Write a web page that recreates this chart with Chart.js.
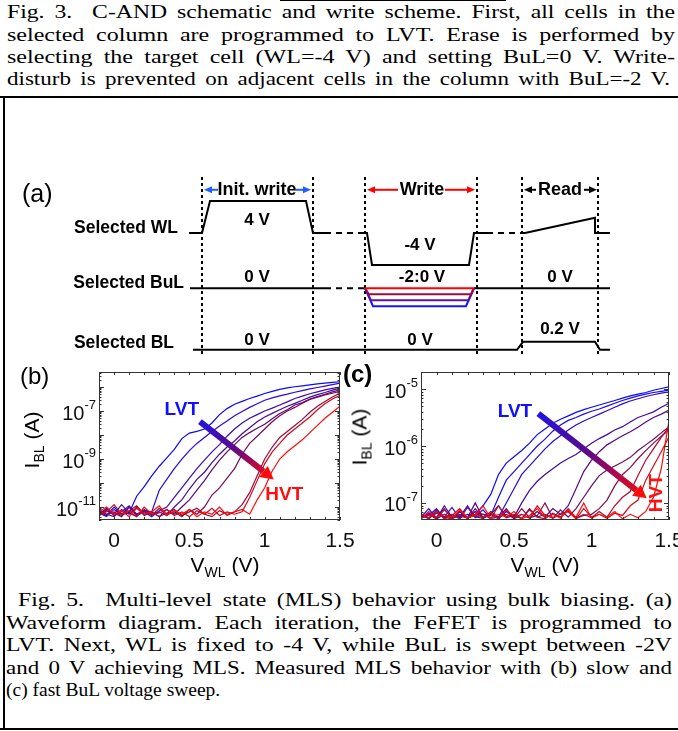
<!DOCTYPE html>
<html lang="en">
<head>
<meta charset="UTF-8" />
<title>Fig. 5 MLS behavior</title>
<script src="https://cdn.jsdelivr.net/npm/chart.js"></script>
<style>
  body { margin: 0; background: #fff; }
  #page { position: relative; width: 678px; height: 731px; overflow: hidden; font-family: "Liberation Sans", Arial, sans-serif; color: #000; }
  .ln { position: absolute; font-family: "Liberation Serif", "Times New Roman", Times, serif; font-size: 19.5px; line-height: 22px; white-space: nowrap; transform-origin: 0 0; }
  .rule { position: absolute; background: #000; }
  canvas { position: absolute; }
  .lbl { position: absolute; line-height: 1; }
  .ttl { position: absolute; font-size: 21px; line-height: 1; white-space: nowrap; }
  .ttl sub { font-size: 14px; vertical-align: baseline; position: relative; top: 5px; }
  .rot { transform: translate(-50%, -50%) rotate(-90deg); }
  .cx { transform: translateX(-50%); }
</style>
</head>
<body>
<div id="page">
  <div class="rule" style="left:280px;top:0;width:226px;height:1px"></div>
  <!-- caption lines: data-w is the width each justified line spans in the picture -->
  <div class="ln" style="left:7px;top:1px" data-w="668">Fig. 3.&nbsp; C-AND schematic and write scheme. First, all cells in the</div>
  <div class="ln" style="left:7px;top:24px" data-w="668">selected column are programmed to LVT. Erase is performed by</div>
  <div class="ln" style="left:7px;top:46px" data-w="668">selecting the target cell (WL=-4 V) and setting BuL=0 V. Write-</div>
  <div class="ln" style="left:7px;top:68px" data-w="663">disturb is prevented on adjacent cells in the column with BuL=-2 V.</div>
  <div class="rule" style="left:0;top:96px;width:678px;height:2px"></div>
  <div class="rule" style="left:3px;top:97px;width:2px;height:633px"></div>
  <div class="rule" style="left:0;top:728px;width:678px;height:2px"></div>

  <canvas id="wave" width="678" height="195" style="left:0;top:170px"></canvas>
  <canvas id="slow" width="320" height="215" style="left:40px;top:360px"></canvas>
  <canvas id="fast" width="318" height="215" style="left:360px;top:360px"></canvas>

  <div class="lbl" style="left:22px;top:181px;font-size:25px">(a)</div>
  <div class="lbl" style="left:20px;top:364px;font-size:24px">(b)</div>
  <div class="lbl" style="left:343px;top:362px;font-size:24px;font-weight:bold">(c)</div>

  <div class="ttl cx" style="left:225px;top:554px">V<sub>WL</sub> (V)</div>
  <div class="ttl cx" style="left:545px;top:554px">V<sub>WL</sub> (V)</div>
  <div class="ttl rot" style="left:31px;top:440px">I<sub>BL</sub> (A)</div>
  <div class="ttl rot" style="left:359px;top:437px">I<sub>BL</sub> (A)</div>

  <div class="ln" style="left:18px;top:589px" data-w="654">Fig. 5.&nbsp; Multi-level state (MLS) behavior using bulk biasing. (a)</div>
  <div class="ln" style="left:6px;top:612px" data-w="666">Waveform diagram. Each iteration, the FeFET is programmed to</div>
  <div class="ln" style="left:6px;top:634px" data-w="666">LVT. Next, WL is fixed to -4 V, while BuL is swept between -2V</div>
  <div class="ln" style="left:6px;top:657px" data-w="666">and 0 V achieving MLS. Measured MLS behavior with (b) slow and</div>
  <div class="ln" style="left:6px;top:679px">(c) fast BuL voltage sweep.</div>
</div>

<script>
  // justify each caption line: a little extra word space, the rest as a horizontal stretch
  document.querySelectorAll('.ln[data-w]').forEach(el => {
    const target = Number(el.dataset.w);
    const txt = el.textContent;
    const spaces = (txt.match(/[ \u00a0]/g) || []).length;
    const w = el.getBoundingClientRect().width;
    el.style.wordSpacing = ((target - w) * 0.25 / spaces).toFixed(3) + 'px';
    const w2 = el.getBoundingClientRect().width;
    el.style.transform = 'scaleX(' + (target / w2).toFixed(4) + ')';
  });

  Chart.defaults.font.family = '"Liberation Sans", Arial, sans-serif';

  // ---------- (a) waveform: time in arbitrary units, levels in drawing units ----------
  const PHASE_MARKS = [11, 66.5, 92.5, 148.5, 171, 209];
  const WL_T1 = [4.5, 11, 15, 63, 66.5, 72.5],      WL_V1 = [0, 0, 4, 4, 0, 0];
  const WL_T2 = [91, 93.5, 96, 144.5, 147, 153.5],  WL_V2 = [0, 0, -4, -4, 0, 0];
  const WL_T3 = [171, 172.5, 207.5, 207.5, 215],    WL_V3 = [0, 0, 1.9, 0, 0];
  const WL_GAPS = [[72.5, 91], [153.5, 171]];
  const BUL_T1 = [5, 72.5], BUL_T2 = [147, 215], BUL_GAP = [72.5, 92.5];
  const BUL_SWEEP = [-2.25, -1.5, -0.75, 0];
  const BUL_IN = [96.5, 95.5, 94.5, 92.5];
  const BUL_OUT = [143, 144.25, 145.5, 147];
  const SWEEP_COLORS = ['#1414ff', '#5a14a0', '#9c0a3c', '#ff0000'];
  const BL_T = [6.5, 168.5, 171.5, 207.5, 210, 215], BL_V = [0, 0, 1, 1, 0, 0];
  const BASE = { WL: 0, BuL: -6.9, BL: -14.6 };

  function wline(ts, vs, base, color, dash, order) {
    return {
      data: ts.map((t, i) => ({ x: t, y: base + vs[i] })),
      borderColor: color, borderWidth: 2, borderDash: dash || [],
      pointRadius: 0, tension: 0, fill: false, order: order || 5
    };
  }

  const waveSets = [];
  PHASE_MARKS.forEach(t => waveSets.push(wline([t, t], [7, -15.5], 0, '#000', [3, 3], 10)));
  waveSets.push(wline(WL_T1, WL_V1, BASE.WL, '#000'));
  waveSets.push(wline(WL_T2, WL_V2, BASE.WL, '#000'));
  waveSets.push(wline(WL_T3, WL_V3, BASE.WL, '#000'));
  WL_GAPS.forEach(g => waveSets.push(wline(g, [0, 0], BASE.WL, '#000', [6, 5])));
  waveSets.push(wline(BUL_T1, [0, 0], BASE.BuL, '#000'));
  waveSets.push(wline(BUL_GAP, [0, 0], BASE.BuL, '#000', [6, 5]));
  waveSets.push(wline(BUL_T2, [0, 0], BASE.BuL, '#000'));
  BUL_SWEEP.forEach((lv, i) => waveSets.push(wline(
    [92.5, BUL_IN[i], BUL_OUT[i], 147], [0, lv, lv, 0], BASE.BuL, SWEEP_COLORS[i], [], 4 - i)));
  waveSets.push(wline(BL_T, BL_V, BASE.BL, '#000'));

  // text notes: [text, t, y, align, size, squeeze]
  const WAVE_NOTES = [
    ['Selected WL', -1, 0.6, 'right', 19, 0.92],
    ['Selected BuL', 2, -6.25, 'right', 19, 0.92],
    ['Selected BL', -3, -13.75, 'right', 19, 0.92],
    ['4 V', 38.5, 1.6, 'center', 17, 1],
    ['0 V', 38.5, -5.6, 'center', 17, 1],
    ['0 V', 38.5, -13.4, 'center', 17, 1],
    ['-4 V', 120, -1.5, 'center', 17, 1],
    ['-2:0 V', 121, -5.6, 'center', 17, 1],
    ['0 V', 120, -13.4, 'center', 17, 1],
    ['0 V', 190, -5.6, 'center', 17, 1],
    ['0.2 V', 190, -12.1, 'center', 17, 1],
    ['Init. write', 38.5, 5.4, 'center', 18, 1],
    ['Write', 121, 5.4, 'center', 18, 1],
    ['Read', 190, 5.4, 'center', 18, 1]
  ];
  // header arrows: [tail, head, color]
  const WAVE_ARROWS = [
    [19, 12, '#1f5fff'], [58, 65.5, '#1f5fff'],
    [109, 93.5, '#ff0000'], [132.5, 147.5, '#ff0000'],
    [178, 172, '#000'], [202, 208.5, '#000']
  ];

  const waveNotes = {
    id: 'waveNotes',
    afterDatasetsDraw(chart) {
      const { ctx, scales: { x, y } } = chart;
      ctx.save();
      WAVE_NOTES.forEach(([txt, t, v, align, size, sq]) => {
        ctx.save();
        ctx.translate(x.getPixelForValue(t), y.getPixelForValue(v));
        ctx.scale(sq, 1);
        ctx.font = 'bold ' + size + 'px "Liberation Sans", Arial';
        ctx.fillStyle = '#000';
        ctx.textAlign = align;
        ctx.textBaseline = 'middle';
        ctx.fillText(txt, 0, 0);
        ctx.restore();
      });
      WAVE_ARROWS.forEach(([t0, t1, col]) => {
        const x0 = x.getPixelForValue(t0), x1 = x.getPixelForValue(t1), py = y.getPixelForValue(5.4);
        const dir = Math.sign(x1 - x0);
        ctx.strokeStyle = col; ctx.fillStyle = col; ctx.lineWidth = 2;
        ctx.beginPath(); ctx.moveTo(x0, py); ctx.lineTo(x1 - dir * 6, py); ctx.stroke();
        ctx.beginPath(); ctx.moveTo(x1, py); ctx.lineTo(x1 - dir * 8, py - 3.5); ctx.lineTo(x1 - dir * 8, py + 3.5);
        ctx.closePath(); ctx.fill();
      });
      ctx.restore();
    }
  };

  new Chart(document.getElementById('wave'), {
    type: 'line',
    data: { datasets: waveSets },
    options: {
      responsive: false, animation: false, events: [],
      layout: { padding: 0 },
      plugins: { legend: { display: false }, tooltip: { enabled: false } },
      scales: {
        x: { type: 'linear', min: -90, max: 249, display: false },
        y: { type: 'linear', min: -16.5, max: 7.875, display: false }
      }
    },
    plugins: [waveNotes]
  });

  // ---------- (b), (c) transfer curves: log10(I_BL / A) vs V_WL ----------
  const VWL = [-0.1, -0.05, 0, 0.05, 0.1, 0.15, 0.2, 0.25, 0.3, 0.35, 0.4, 0.45, 0.5, 0.55, 0.6, 0.65,
               0.7, 0.75, 0.8, 0.85, 0.9, 0.95, 1, 1.05, 1.1, 1.15, 1.2, 1.25, 1.3, 1.35, 1.4, 1.45, 1.5];
  const X_TICKS = [0, 0.5, 1, 1.5];

  const SLOW_1 = [-11.2, -11.35, -11.0, -11.3, -11.25, -10.55, -10.15, -9.7, -9.3, -8.95, -8.6, -8.15, -7.92, -7.85, -7.75, -7.5, -7.15, -6.9, -6.72, -6.6, -6.48, -6.38, -6.27, -6.18, -6.1, -6.04, -5.99, -5.95, -5.91, -5.87, -5.84, -5.81, -5.78];
  const SLOW_2 = [-11.3, -11.05, -11.35, -11.2, -10.95, -11.3, -11.15, -11.2, -10.3, -9.85, -9.4, -9.0, -8.65, -8.35, -8.1, -7.85, -7.62, -7.42, -7.2, -7.02, -6.85, -6.7, -6.55, -6.45, -6.37, -6.3, -6.22, -6.15, -6.08, -6.02, -5.96, -5.9, -5.84];
  const SLOW_3 = [-11.25, -11.4, -11.1, -11.3, -11.0, -11.35, -11.2, -11.4, -11.15, -11.0, -10.6, -10.2, -9.8, -9.4, -9.05, -8.7, -8.4, -8.05, -7.75, -7.5, -7.3, -7.15, -7.0, -6.88, -6.75, -6.62, -6.48, -6.38, -6.28, -6.2, -6.12, -6.06, -6.0];
  const SLOW_4 = [-11.35, -11.15, -11.3, -10.9, -11.25, -11.4, -11.1, -11.3, -11.2, -11.35, -11.0, -10.7, -10.25, -9.85, -9.55, -9.15, -8.8, -8.5, -8.25, -7.95, -7.7, -7.45, -7.25, -7.1, -6.95, -6.8, -6.68, -6.55, -6.42, -6.32, -6.23, -6.13, -6.05];
  const SLOW_5 = [-11.2, -11.3, -11.4, -11.1, -11.3, -11.0, -11.35, -11.2, -11.4, -11.1, -11.3, -11.0, -10.7, -10.3, -9.9, -9.45, -9.05, -8.7, -8.4, -8.1, -7.9, -7.72, -7.55, -7.32, -7.1, -6.95, -6.75, -6.65, -6.5, -6.4, -6.3, -6.2, -6.12];
  const SLOW_6 = [-11.3, -11.1, -11.25, -11.4, -11.0, -11.3, -11.15, -11.35, -11.05, -11.3, -11.2, -11.4, -11.1, -11.3, -11.0, -10.5, -10.2, -9.8, -9.4, -8.8, -8.35, -8.05, -7.75, -7.45, -7.2, -7.0, -6.85, -6.68, -6.52, -6.42, -6.33, -6.26, -6.18];
  const SLOW_7 = [-11.1, -11.3, -11.2, -11.35, -11.15, -10.95, -11.3, -11.2, -11.4, -11.25, -11.1, -11.35, -11.2, -11.05, -11.3, -11.4, -11.15, -11.3, -11.2, -10.9, -10.4, -9.7, -9.0, -8.5, -8.1, -7.85, -7.6, -7.35, -7.05, -6.8, -6.6, -6.42, -6.25];
  const SLOW_8 = [-11.35, -11.2, -10.9, -11.3, -11.15, -11.4, -11.0, -11.3, -11.25, -11.1, -11.35, -11.2, -11.4, -11.15, -11.3, -11.05, -11.35, -11.2, -11.3, -11.2, -10.6, -9.9, -9.2, -8.7, -8.35, -8.0, -7.75, -7.5, -7.25, -6.95, -6.7, -6.5, -6.35];
  const SLOW_9 = [-11.2, -11.0, -11.3, -11.15, -11.4, -11.05, -11.3, -11.2, -10.95, -11.35, -11.15, -11.3, -11.1, -11.4, -11.2, -11.3, -11.0, -11.35, -11.2, -11.1, -11.3, -10.7, -10.2, -9.5, -9.0, -8.7, -8.45, -8.2, -7.9, -7.6, -7.3, -7.05, -6.8];
  const SLOW_COLORS = ['#0a0aff', '#2a0ad8', '#3c0ab0', '#4a0a90', '#5a0a74', '#780a56', '#9c0a3c', '#d00a1e', '#ff0a0a'];

  const FAST_1 = [-7.25, -7.1, -7.28, -7.2, -7.26, -7.15, -7.27, -7.2, -7.05, -6.85, -6.5, -6.3, -6.19, -6.08, -5.95, -5.8, -5.7, -5.6, -5.53, -5.47, -5.41, -5.36, -5.32, -5.28, -5.24, -5.2, -5.16, -5.12, -5.09, -5.06, -5.02, -4.99, -4.96];
  const FAST_2 = [-7.27, -7.22, -7.1, -7.28, -7.2, -7.25, -7.05, -7.26, -7.2, -7.22, -6.9, -6.6, -6.45, -6.3, -6.15, -6.0, -5.88, -5.74, -5.63, -5.55, -5.5, -5.44, -5.39, -5.35, -5.3, -5.25, -5.2, -5.16, -5.12, -5.09, -5.06, -5.04, -5.02];
  const FAST_3 = [-7.2, -7.28, -7.15, -7.25, -7.08, -7.27, -7.2, -7.24, -7.12, -7.27, -7.25, -7.0, -6.75, -6.5, -6.35, -6.2, -6.05, -5.92, -5.82, -5.72, -5.63, -5.56, -5.5, -5.44, -5.38, -5.32, -5.26, -5.21, -5.17, -5.13, -5.1, -5.07, -5.05];
  const FAST_4 = [-7.26, -7.18, -7.28, -7.05, -7.25, -7.2, -7.27, -7.1, -7.26, -7.2, -7.28, -7.15, -7.25, -7.0, -6.78, -6.62, -6.5, -6.4, -6.3, -6.22, -6.15, -6.05, -5.95, -5.87, -5.8, -5.72, -5.66, -5.58, -5.5, -5.45, -5.4, -5.32, -5.25];
  const FAST_5 = [-7.2, -7.27, -7.12, -7.25, -7.28, -7.15, -7.26, -7.0, -7.27, -7.2, -7.25, -7.1, -7.28, -7.2, -7.26, -7.15, -7.25, -7.1, -7.2, -7.05, -6.75, -6.45, -6.25, -6.1, -5.98, -5.9, -5.82, -5.75, -5.67, -5.58, -5.5, -5.44, -5.37];
  const FAST_6 = [-7.27, -7.2, -7.25, -7.1, -7.28, -7.22, -7.26, -7.15, -7.27, -7.2, -7.05, -7.26, -7.22, -7.28, -7.1, -7.25, -7.2, -7.27, -7.12, -7.25, -7.1, -6.9, -6.7, -6.52, -6.42, -6.35, -6.28, -6.2, -6.08, -5.98, -5.88, -5.77, -5.66];
  const FAST_7 = [-7.22, -7.27, -7.18, -7.25, -7.2, -7.28, -7.08, -7.24, -7.27, -7.15, -7.25, -7.2, -7.27, -7.1, -7.26, -7.22, -7.0, -7.27, -7.2, -7.15, -7.27, -7.22, -7.2, -7.1, -6.95, -6.7, -6.5, -6.38, -6.22, -6.08, -5.95, -5.83, -5.72];
  const FAST_8 = [-7.26, -7.2, -7.28, -7.12, -7.25, -7.22, -7.27, -7.15, -7.2, -7.28, -7.05, -7.24, -7.2, -7.27, -7.12, -7.25, -7.28, -7.18, -7.25, -7.1, -7.27, -7.2, -7.26, -7.15, -7.25, -7.05, -6.9, -6.8, -6.52, -6.25, -6.05, -5.85, -5.66];
  const FAST_9 = [-7.2, -7.26, -7.15, -7.28, -7.22, -7.1, -7.27, -7.2, -7.25, -7.18, -7.28, -7.12, -7.25, -7.2, -7.27, -7.05, -7.22, -7.26, -7.2, -7.15, -7.28, -7.1, -7.25, -7.2, -7.27, -7.18, -7.22, -7.05, -6.95, -6.6, -6.35, -6.1, -5.84];
  const FAST_10 = [-7.27, -7.15, -7.25, -7.2, -7.28, -7.12, -7.26, -7.22, -7.05, -7.27, -7.2, -7.25, -7.15, -7.28, -7.22, -7.1, -7.26, -7.2, -7.27, -7.12, -7.25, -7.0, -7.27, -7.2, -7.25, -7.15, -7.28, -7.2, -7.26, -7.15, -6.9, -6.4, -5.55];
  const FAST_COLORS = ['#0a0aff', '#1a0af0', '#2c0ad0', '#440aa0', '#540a82', '#680a66', '#840a4a', '#b00a30', '#d80a18', '#ff0a0a'];

  function decor(o) {
    return {
      id: 'ivDecor',
      afterDraw(chart) {
        const { ctx, chartArea: a, scales: { x, y } } = chart;
        ctx.save();
        ctx.strokeStyle = '#333'; ctx.lineWidth = 1;
        ctx.strokeRect(a.left + 0.5, a.top + 0.5, a.right - a.left - 1, a.bottom - a.top - 1);
        // inward ticks
        ctx.beginPath();
        for (let k = -1; k <= 15; k++) {
          const px = Math.round(x.getPixelForValue(k / 10)) + 0.5;
          ctx.moveTo(px, a.top); ctx.lineTo(px, a.top + 3);
          ctx.moveTo(px, a.bottom); ctx.lineTo(px, a.bottom - 3);
        }
        for (let d = Math.floor(o.logMin); d <= Math.ceil(o.logMax); d++) {
          for (let m = 1; m <= 9; m++) {
            const v = m * Math.pow(10, d);
            if (v < y.min || v > y.max) continue;
            const py = Math.round(y.getPixelForValue(v)) + 0.5, len = m === 1 ? 5 : 2.5;
            ctx.moveTo(a.left, py); ctx.lineTo(a.left + len, py);
            ctx.moveTo(a.right, py); ctx.lineTo(a.right - len, py);
          }
        }
        ctx.stroke();
        // decade labels 10^n
        ctx.fillStyle = '#111'; ctx.textBaseline = 'middle';
        o.yLabels.forEach(d => {
          const py = y.getPixelForValue(Math.pow(10, d));
          ctx.font = '13px "Liberation Sans", Arial';
          const e = String(d), ew = ctx.measureText(e).width;
          ctx.textAlign = 'left';
          ctx.fillText(e, a.left - 3 - ew, py - 6);
          ctx.font = '20px "Liberation Sans", Arial';
          ctx.textAlign = 'right';
          ctx.fillText('10', a.left - 3 - ew, py + 3);
        });
        // LVT -> HVT arrow
        const x1 = x.getPixelForValue(o.arrow[0]), y1 = y.getPixelForValue(Math.pow(10, o.arrow[1]));
        const x2 = x.getPixelForValue(o.arrow[2]), y2 = y.getPixelForValue(Math.pow(10, o.arrow[3]));
        const g = ctx.createLinearGradient(x1, y1, x2, y2);
        g.addColorStop(0, '#2214e0'); g.addColorStop(0.45, '#5a0a8a'); g.addColorStop(1, '#ff0a0a');
        const ang = Math.atan2(y2 - y1, x2 - x1), head = 13;
        const bx = x2 - head * Math.cos(ang), by = y2 - head * Math.sin(ang);
        ctx.strokeStyle = g; ctx.lineWidth = 6;
        ctx.beginPath(); ctx.moveTo(x1, y1); ctx.lineTo(bx, by); ctx.stroke();
        ctx.fillStyle = '#ff0a0a';
        ctx.beginPath(); ctx.moveTo(x2, y2);
        ctx.lineTo(bx + 7 * Math.sin(ang), by - 7 * Math.cos(ang));
        ctx.lineTo(bx - 7 * Math.sin(ang), by + 7 * Math.cos(ang));
        ctx.closePath(); ctx.fill();
        // state labels
        ctx.font = 'bold 19px "Liberation Sans", Arial';
        ctx.textAlign = 'center'; ctx.textBaseline = 'middle';
        ctx.fillStyle = '#1010ff';
        ctx.fillText('LVT', x.getPixelForValue(o.lvt[0]), y.getPixelForValue(Math.pow(10, o.lvt[1])));
        ctx.fillStyle = '#ff1010';
        ctx.save();
        ctx.translate(x.getPixelForValue(o.hvt[0]), y.getPixelForValue(Math.pow(10, o.hvt[1])));
        if (o.hvtUp) ctx.rotate(-Math.PI / 2);
        ctx.fillText('HVT', 0, 0);
        ctx.restore();
        ctx.restore();
      }
    };
  }

  function ivChart(id, curves, colors, o) {
    return new Chart(document.getElementById(id), {
      type: 'line',
      data: {
        datasets: curves.map((c, i) => ({
          data: VWL.map((v, k) => ({ x: v, y: Math.pow(10, c[k]) })),
          borderColor: colors[i], borderWidth: 1.2, pointRadius: 0, tension: 0,
          fill: false, order: curves.length - i
        }))
      },
      options: {
        responsive: false, animation: false, events: [],
        layout: { padding: { top: 12, right: o.padRight, left: 0, bottom: 0 } },
        plugins: { legend: { display: false }, tooltip: { enabled: false } },
        scales: {
          x: {
            type: 'linear', min: -0.1, max: 1.5,
            grid: { display: false, drawTicks: false }, border: { display: false },
            afterBuildTicks: s => { s.ticks = X_TICKS.map(v => ({ value: v })); },
            ticks: { font: { size: 21 }, color: '#111', padding: 9, maxRotation: 0, autoSkip: false,
                     callback: v => String(v) },
            afterFit: s => { s.height = 55; s.paddingLeft = 0; s.paddingRight = 0; }
          },
          y: {
            type: 'logarithmic', min: Math.pow(10, o.logMin), max: Math.pow(10, o.logMax),
            grid: { display: false, drawTicks: false }, border: { display: false },
            ticks: { display: false },
            afterFit: s => { s.width = o.yWidth; }
          }
        }
      },
      plugins: [decor(o)]
    });
  }

  ivChart('slow', [SLOW_1, SLOW_2, SLOW_3, SLOW_4, SLOW_5, SLOW_6, SLOW_7, SLOW_8, SLOW_9], SLOW_COLORS, {
    logMin: -11.54, logMax: -5.375, yWidth: 59, padRight: 20, yLabels: [-7, -9, -11],
    arrow: [0.57, -7.44, 1.06, -9.85], lvt: [0.45, -6.96], hvt: [1.13, -10.5], hvtUp: false
  });
  ivChart('fast', [FAST_1, FAST_2, FAST_3, FAST_4, FAST_5, FAST_6, FAST_7, FAST_8, FAST_9, FAST_10], FAST_COLORS, {
    logMin: -7.3, logMax: -4.7, yWidth: 61, padRight: 9, yLabels: [-5, -6, -7],
    arrow: [0.657, -5.43, 1.356, -6.92], lvt: [0.506, -5.4], hvt: [1.42, -6.83], hvtUp: true
  });
</script>
</body>
</html>
